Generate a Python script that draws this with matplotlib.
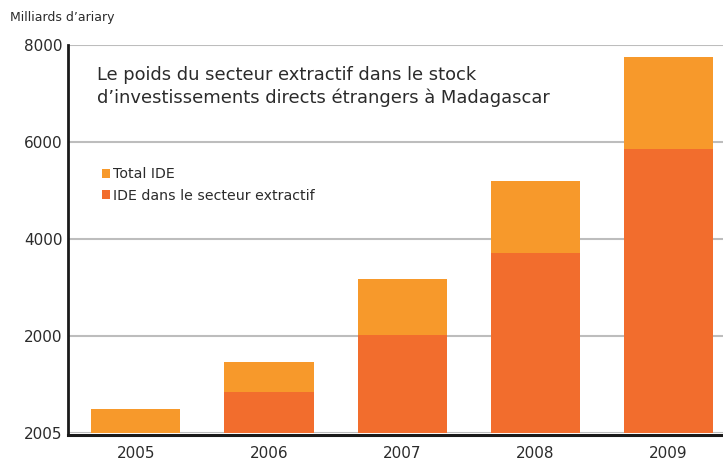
import matplotlib
matplotlib.use("Agg")
import matplotlib.pyplot as plt
import numpy as np

# Values (milliards d'ariary)
years = ["2005", "2006", "2007", "2008", "2009"]
total_ide = [500, 1460, 3170, 5190, 7760]
ide_extractif = [0, 845, 2020, 3710, 5850]
ytick_values = [0, 2000, 4000, 6000, 8000]
ytick_labels = ["2005", "2000", "4000", "6000", "8000"]

color_total = "#F7992B"
color_extr = "#F26D2D"
text_color = "#2b2b2b"

plt.rcParams["font.family"] = ["DejaVu Sans"]

fig = plt.figure(figsize=(7.23, 4.61), dpi=100)
ax = fig.add_axes([68 / 723, (461 - 433) / 461, 1 - 68 / 723, (433 - 45) / 461])

x = np.arange(len(years))
bar_width = 0.67
ax.bar(x, total_ide, width=bar_width, color=color_total, label="Total IDE", zorder=2)
ax.bar(x, ide_extractif, width=bar_width, color=color_extr, label="IDE dans le secteur extractif", zorder=3)

ax.set_xlim(-0.51, 4.41)
ax.set_ylim(0, 8000)
ax.set_yticks(ytick_values)
ax.set_yticklabels(ytick_labels)
ax.set_xticks(x)
ax.set_xticklabels(years)
ax.tick_params(axis="both", length=0, labelsize=11, colors=text_color)
ax.tick_params(axis="x", pad=8)
ax.tick_params(axis="y", pad=4)

ax.yaxis.grid(True, color="#bdbdbd", linewidth=1.5, zorder=1)
ax.set_axisbelow(True)
for side in ["top", "right"]:
    ax.spines[side].set_visible(False)
ax.spines["left"].set_color("#1a1a1a")
ax.spines["left"].set_linewidth(2)
ax.spines["bottom"].set_color("#1a1a1a")
ax.spines["bottom"].set_linewidth(2.2)
ax.spines["bottom"].set_position(("outward", 1.5))

ax.text(0.044, 0.945, "Le poids du secteur extractif dans le stock\nd\u2019investissements directs \u00e9trangers \u00e0 Madagascar",
        transform=ax.transAxes, fontsize=12.9, color=text_color, va="top", ha="left", linespacing=1.3)

handles, labels = ax.get_legend_handles_labels()
ax.legend(handles, labels, loc="upper left", bbox_to_anchor=(0.043, 0.70), frameon=False,
          fontsize=10.2, handlelength=0.6, handleheight=0.6, handletextpad=0.2,
          labelspacing=0.55, labelcolor=text_color, borderaxespad=0)

fig.text(10 / 723, 1 - 18 / 461, "Milliards d\u2019ariary", fontsize=9, color=text_color, va="center", ha="left")

fig.savefig("out.png", dpi=100)
